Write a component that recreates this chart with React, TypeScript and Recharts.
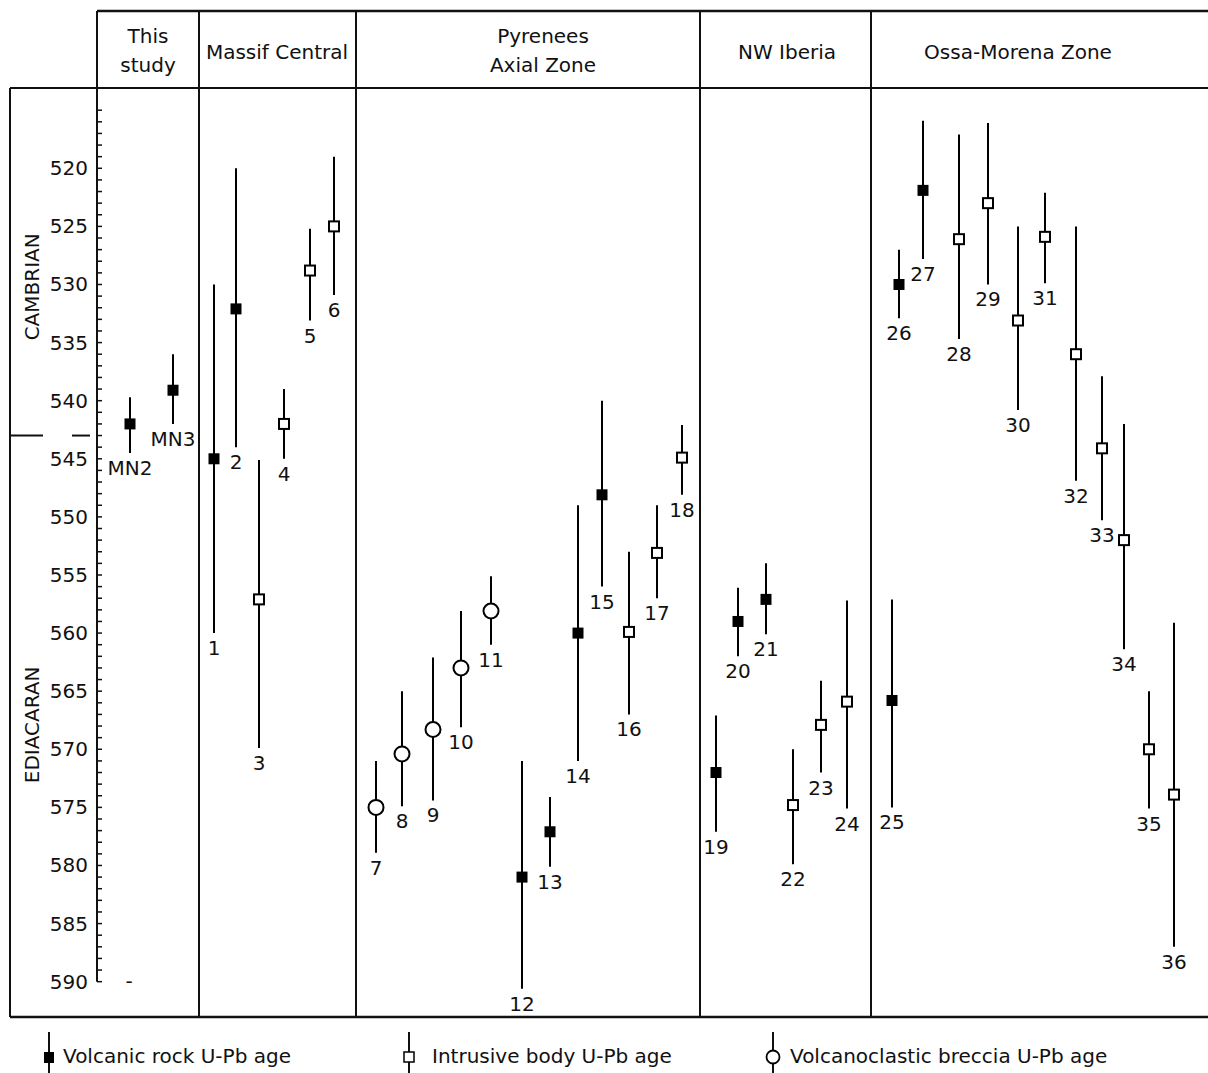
import React from "react";
import {
  ScatterChart,
  Scatter,
  XAxis,
  YAxis,
  ErrorBar,
  ReferenceLine,
  ReferenceDot,
  Legend,
} from "recharts";

// sample ids, horizontal slot, type and U-Pb ages (Ma)
const sampleIds = [
  "MN2", "MN3", "1", "2", "3", "4", "5", "6", "7", "8", "9", "10", "11", "12",
  "13", "14", "15", "16", "17", "18", "19", "20", "21", "22", "23", "24", "25",
  "26", "27", "28", "29", "30", "31", "32", "33", "34", "35", "36",
];
const samplePos = [
  3.3, 7.6, 11.7, 13.9, 16.2, 18.7, 21.3, 23.7, 27.9, 30.5, 33.6, 36.4, 39.4,
  42.5, 45.3, 48.1, 50.5, 53.2, 56.0, 58.5, 61.9, 64.1, 66.9, 69.6, 72.4, 75.0,
  79.5, 80.2, 82.6, 86.2, 89.1, 92.1, 94.8, 97.9, 100.5, 102.7, 105.2, 107.7,
];
// v = volcanic rock, i = intrusive body, b = volcanoclastic breccia
const sampleType = [
  "v", "v", "v", "v", "i", "i", "i", "i", "b", "b", "b", "b", "b", "v", "v",
  "v", "v", "i", "i", "i", "v", "v", "v", "i", "i", "i", "v", "v", "v", "i",
  "i", "i", "i", "i", "i", "i", "i", "i",
];
const ageMean = [
  542.0, 539.1, 545.0, 532.1, 557.1, 542.0, 528.8, 525.0, 575.0, 570.4, 568.3,
  563.0, 558.1, 581.0, 577.1, 560.0, 548.1, 559.9, 553.1, 544.9, 572.0, 559.0,
  557.1, 574.8, 567.9, 565.9, 565.8, 530.0, 521.9, 526.1, 523.0, 533.1, 525.9,
  536.0, 544.1, 552.0, 570.0, 573.9,
];
const ageMin = [
  539.7, 536.0, 530.0, 520.0, 545.1, 539.0, 525.2, 519.0, 571.0, 565.0, 562.1,
  558.1, 555.1, 571.0, 574.1, 549.0, 540.0, 553.0, 549.0, 542.1, 567.1, 556.1,
  554.0, 570.0, 564.1, 557.2, 557.1, 527.0, 515.9, 517.1, 516.1, 525.0, 522.1,
  525.0, 537.9, 542.0, 565.0, 559.1,
];
const ageMax = [
  544.5, 542.0, 560.0, 544.0, 569.9, 545.0, 533.1, 530.9, 578.9, 574.9, 574.4,
  568.1, 561.0, 590.6, 580.1, 571.0, 556.0, 567.0, 557.0, 548.1, 577.1, 562.0,
  560.1, 579.9, 572.0, 575.1, 575.0, 532.9, 527.8, 534.7, 530.0, 540.8, 529.9,
  546.9, 550.3, 561.4, 575.1, 587.0,
];

// column headers
const headerNames = [
  ["This", "study"],
  ["Massif Central"],
  ["Pyrenees", "Axial Zone"],
  ["NW Iberia"],
  ["Ossa-Morena Zone"],
];
const headerPos = [5.1, 18.0, 44.6, 69.0, 92.1];
const dividerPos = [10.2, 25.9, 60.3, 77.4];

const yTicks = Array.from({ length: 76 }, (_, i) => 515 + i);

// frame extents in data units
const X_FRAME = -8.7;
const X_MAX = 111.1;
const Y_HEAD = 506.46;
const Y_MIN = 513.09;
const Y_MAX = 593.04;
const ERA_BOUNDARY = 543.0;

const FONT = "DejaVu Sans";
const INK = "#111";

const rows = sampleIds.map((id, i) => ({
  id,
  x: samplePos[i],
  y: ageMean[i],
  type: sampleType[i],
  err: [ageMean[i] - ageMin[i], ageMax[i] - ageMean[i]],
}));
const labelRows = sampleIds.map((id, i) => ({ id, x: samplePos[i], y: ageMax[i] }));

const FilledSquare = (props: any) => (
  <rect x={props.cx - 5.5} y={props.cy - 5.5} width={11} height={11} fill="#000" />
);
const OpenSquare = (props: any) => (
  <rect
    x={props.cx - 5}
    y={props.cy - 5}
    width={10}
    height={10}
    fill="#fff"
    stroke="#000"
    strokeWidth={2}
  />
);
const OpenCircle = (props: any) => (
  <circle cx={props.cx} cy={props.cy} r={7.5} fill="#fff" stroke="#000" strokeWidth={2} />
);
const SampleLabel = (props: any) => (
  <text
    x={props.cx}
    y={props.cy + 22}
    textAnchor="middle"
    fontFamily={FONT}
    fontSize={20}
    fill={INK}
  >
    {props.payload.id}
  </text>
);

const AgeTick = (props: any) => {
  const { x, y, payload } = props;
  const v = payload.value;
  return (
    <g>
      <line x1={x} y1={y} x2={x + 5} y2={y} stroke={INK} strokeWidth={1.5} />
      {v % 5 === 0 && v >= 520 && (
        <text x={x - 9} y={y + 7} textAnchor="end" fontFamily={FONT} fontSize={20} fill={INK}>
          {v}
        </text>
      )}
    </g>
  );
};

const HeaderTick = (props: any) => {
  const { x, y, index } = props;
  const lines = headerNames[index] || [];
  const baselines = lines.length === 2 ? [y - 45, y - 16] : [y - 29];
  return (
    <g>
      {lines.map((t, i) => (
        <text
          key={i}
          x={x}
          y={baselines[i]}
          textAnchor="middle"
          fontFamily={FONT}
          fontSize={20}
          fill={INK}
        >
          {t}
        </text>
      ))}
    </g>
  );
};

const EraText = (text: string) => (props: any) => (
  <text
    x={props.cx}
    y={props.cy}
    transform={`rotate(-90 ${props.cx} ${props.cy})`}
    textAnchor="middle"
    dominantBaseline="central"
    fontFamily={FONT}
    fontSize={20}
    fill={INK}
  >
    {text}
  </text>
);

const LegendBox = () => (
  <div style={{ height: 56 }}>
    <svg width={1198} height={56}>
      <g fontFamily={FONT} fontSize={20} fill={INK}>
        <line x1={39} y1={15} x2={39} y2={56} stroke={INK} strokeWidth={2} />
        <rect x={34} y={35} width={10} height={11} fill="#000" />
        <text x={53} y={46}>Volcanic rock U-Pb age</text>

        <line x1={399} y1={15} x2={399} y2={56} stroke={INK} strokeWidth={2} />
        <rect x={394} y={35} width={10} height={10} fill="#fff" stroke="#000" strokeWidth={1.5} />
        <text x={422} y={46}>Intrusive body U-Pb age</text>

        <line x1={763} y1={15} x2={763} y2={56} stroke={INK} strokeWidth={2} />
        <circle cx={763} cy={40} r={6.5} fill="#fff" stroke="#000" strokeWidth={1.8} />
        <text x={780} y={46}>Volcanoclastic breccia U-Pb age</text>
      </g>
    </svg>
  </div>
);

const seg = (x1: number, y1: number, x2: number, y2: number, w = 2) => (
  <ReferenceLine
    key={`${x1}-${y1}-${x2}-${y2}`}
    segment={[
      { x: x1, y: y1 },
      { x: x2, y: y2 },
    ]}
    stroke={INK}
    strokeWidth={w}
    ifOverflow="visible"
  />
);

export default function App() {
  return (
    <div style={{ position: "absolute", left: 0, top: 0, background: "#fff" }}>
      <ScatterChart
        width={1208}
        height={1073}
        margin={{ top: 11, right: 0, bottom: 0, left: 10 }}
      >
        <XAxis
          type="number"
          dataKey="x"
          orientation="top"
          domain={[0, X_MAX]}
          allowDataOverflow
          ticks={headerPos}
          interval={0}
          tick={<HeaderTick />}
          tickSize={0}
          tickMargin={0}
          axisLine={false}
          tickLine={false}
          height={77}
        />
        <YAxis
          type="number"
          dataKey="y"
          domain={[Y_MIN, Y_MAX]}
          allowDataOverflow
          reversed
          ticks={yTicks}
          interval={0}
          tick={<AgeTick />}
          tickSize={0}
          tickMargin={0}
          axisLine={false}
          tickLine={false}
          width={87}
        />

        {/* frame and column dividers */}
        {seg(0, Y_HEAD, X_MAX, Y_HEAD, 2.5)}
        {seg(X_FRAME, Y_MIN, X_MAX, Y_MIN)}
        {seg(X_FRAME, Y_MAX, X_MAX, Y_MAX, 2.5)}
        {seg(X_FRAME, Y_MIN, X_FRAME, Y_MAX)}
        {seg(0, Y_HEAD, 0, 590)}
        {dividerPos.map((p) => seg(p, Y_HEAD, p, Y_MAX))}
        {seg(X_FRAME, ERA_BOUNDARY, -5.4, ERA_BOUNDARY)}
        {seg(-2.5, ERA_BOUNDARY, -0.7, ERA_BOUNDARY)}

        <ReferenceDot x={-6.5} y={530.2} r={0} ifOverflow="visible" shape={EraText("CAMBRIAN")} />
        <ReferenceDot x={-6.5} y={567.9} r={0} ifOverflow="visible" shape={EraText("EDIACARAN")} />
        <ReferenceDot
          x={3.2}
          y={590}
          r={0}
          ifOverflow="visible"
          shape={(p: any) => (
            <text x={p.cx} y={p.cy + 6} textAnchor="middle" fontFamily={FONT} fontSize={20} fill={INK}>
              -
            </text>
          )}
        />

        <Scatter
          name="Volcanic rock U-Pb age"
          data={rows.filter((r) => r.type === "v")}
          shape={FilledSquare}
          isAnimationActive={false}
        >
          <ErrorBar dataKey="err" direction="y" width={0} stroke="#000" strokeWidth={2} isAnimationActive={false} />
        </Scatter>
        <Scatter
          name="Intrusive body U-Pb age"
          data={rows.filter((r) => r.type === "i")}
          shape={OpenSquare}
          isAnimationActive={false}
        >
          <ErrorBar dataKey="err" direction="y" width={0} stroke="#000" strokeWidth={2} isAnimationActive={false} />
        </Scatter>
        <Scatter
          name="Volcanoclastic breccia U-Pb age"
          data={rows.filter((r) => r.type === "b")}
          shape={OpenCircle}
          isAnimationActive={false}
        >
          <ErrorBar dataKey="err" direction="y" width={0} stroke="#000" strokeWidth={2} isAnimationActive={false} />
        </Scatter>
        <Scatter
          name="labels"
          data={labelRows}
          shape={SampleLabel}
          legendType="none"
          isAnimationActive={false}
        />

        <Legend verticalAlign="bottom" content={() => <LegendBox />} />
      </ScatterChart>
    </div>
  );
}
